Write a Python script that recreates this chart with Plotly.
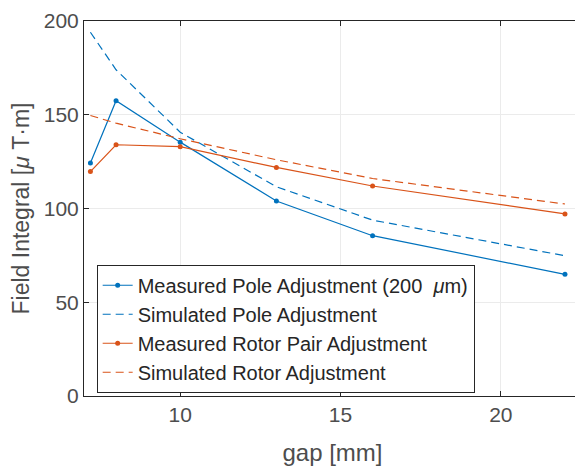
import plotly.graph_objects as go

gap = [7.2, 8, 10, 13, 16, 22]
meas_pole = [124.3, 157.5, 135.4, 104.0, 85.5, 64.9]
sim_pole = [194.0, 174.0, 140.7, 111.6, 93.8, 74.8]
meas_rotor = [119.7, 134.0, 133.0, 121.9, 112.0, 97.1]
sim_rotor = [149.6, 145.5, 137.2, 126.0, 116.0, 102.4]

blue = "#0072BD"
red = "#D95319"
font = "Liberation Sans, Arial, Helvetica, sans-serif"

fig = go.Figure()
fig.add_trace(go.Scatter(x=gap, y=meas_pole, mode="lines+markers",
                         line=dict(color=blue, width=1.2), marker=dict(size=5, color=blue),
                         name="Measured Pole Adjustment (200  <i>μ</i>m)"))
fig.add_trace(go.Scatter(x=gap, y=sim_pole, mode="lines",
                         line=dict(color=blue, width=1.2, dash="8px,5px"),
                         name="Simulated Pole Adjustment"))
fig.add_trace(go.Scatter(x=gap, y=meas_rotor, mode="lines+markers",
                         line=dict(color=red, width=1.2), marker=dict(size=5, color=red),
                         name="Measured Rotor Pair Adjustment"))
fig.add_trace(go.Scatter(x=gap, y=sim_rotor, mode="lines",
                         line=dict(color=red, width=1.2, dash="8px,5px"),
                         name="Simulated Rotor Adjustment"))

axis_common = dict(showline=True, linecolor="#262626", linewidth=1, mirror="ticks",
                   ticks="inside", ticklen=5, tickcolor="#262626",
                   showgrid=True, gridcolor="#EBEBEB", gridwidth=1, zeroline=False,
                   ticklabeloverflow="allow",
                   tickfont=dict(family=font, size=21, color="#4D4D4D"))

# page body has an 8px default margin; size the figure to fit the 583x466 window
fig.update_layout(
    width=575, height=458,
    margin=dict(l=76, r=1, t=10, b=70),
    paper_bgcolor="white", plot_bgcolor="white",
    font=dict(family=font, color="#262626"),
    xaxis=dict(range=[7, 22.5], tickvals=[10, 15, 20],
               title=dict(text="gap [mm]", font=dict(family=font, size=24, color="#4D4D4D"), standoff=18),
               **axis_common),
    yaxis=dict(range=[0, 200], tickvals=[0, 50, 100, 150, 200],
               title=dict(text="Field Integral [<i>μ</i> T·m]", font=dict(family=font, size=23, color="#4D4D4D"), standoff=8),
               **axis_common),
    legend=dict(x=0.0255, y=0.35, xanchor="left", yanchor="top",
                bgcolor="white", bordercolor="#262626", borderwidth=1,
                font=dict(family=font, size=20, color="#262626"),
                tracegroupgap=0, itemwidth=30),
    showlegend=True,
)

fig.write_html("out.html")
